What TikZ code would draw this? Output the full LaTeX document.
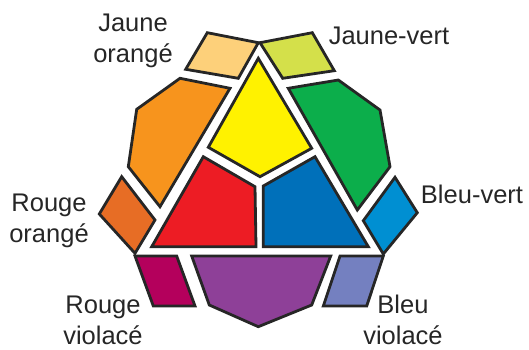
\documentclass[tikz,border=0pt]{standalone}
\usepackage{fontspec}
\setmainfont{Liberation Sans}

\definecolor{jauneorange}{RGB}{253,208,122}
\definecolor{jaunevert}{RGB}{212,224,74}
\definecolor{jaune}{RGB}{255,242,0}
\definecolor{orange}{RGB}{247,148,29}
\definecolor{vert}{RGB}{12,174,75}
\definecolor{rouge}{RGB}{237,28,36}
\definecolor{bleu}{RGB}{0,112,186}
\definecolor{violet}{RGB}{142,64,152}
\definecolor{rougeviolace}{RGB}{180,0,92}
\definecolor{bleuviolace}{RGB}{116,128,192}
\definecolor{rougeorange}{RGB}{231,109,37}
\definecolor{bleuvert}{RGB}{0,143,210}

\begin{document}
\begin{tikzpicture}[
    x=1pt, y=-1pt,
    patch/.style={
        draw=black!85,
        line width=2.8pt,
        line join=miter
    },
    every node/.style={
        font=\fontsize{25.5}{31}\selectfont,
        text=black!85,
        align=center,
        inner sep=0pt
    }
]
\useasboundingbox (0,0) rectangle (529,349);

% triangle central
\draw[patch, fill=jaune] (258.3,58.3) -- (311.7,148.3) -- (260,176.7) -- (208.3,147.3) -- cycle;
\draw[patch, fill=rouge] (203.3,156.7) -- (255,186.7) -- (256,246.7) -- (151.7,246.7) -- cycle;
\draw[patch, fill=bleu] (263.3,186) -- (315,156.7) -- (368.3,246.7) -- (263.3,246.7) -- cycle;

% couleurs secondaires
\draw[patch, fill=orange] (180,78.3) -- (230,88.3) -- (160,206.7) -- (128.3,166.7) -- (136.7,109.3) -- cycle;
\draw[patch, fill=vert] (288.3,88.3) -- (338.3,80) -- (380,110) -- (390,166.7) -- (357.3,210) -- cycle;
\draw[patch, fill=violet] (191.7,256) -- (330.7,256) -- (311.7,305) -- (258.3,326.7) -- (209.3,305) -- cycle;

% couleurs tertiaires
\draw[patch, fill=jauneorange] (207.3,32.7) -- (258.3,42.7) -- (238.3,78.3) -- (185.7,69.3) -- cycle;
\draw[patch, fill=jaunevert] (260,42.7) -- (312.3,32.7) -- (334.3,70.7) -- (282.7,78.3) -- cycle;
\draw[patch, fill=rougeorange] (121.7,176.7) -- (155,220) -- (135,253.3) -- (99.3,214) -- cycle;
\draw[patch, fill=bleuvert] (395,177.3) -- (417.3,212.7) -- (383.3,254) -- (363.3,220.7) -- cycle;
\draw[patch, fill=rougeviolace] (135,256) -- (176.7,256) -- (195,306) -- (153.3,306) -- cycle;
\draw[patch, fill=bleuviolace] (340,256) -- (383.3,256) -- (366.7,306) -- (323.3,306) -- cycle;

% noms
\node (jo) at (133,41) {Jaune\\orangé};
\node (jv) at (389,36) {Jaune-vert};
\node (ro) at (49,221) {Rouge\\orangé};
\node (bv) at (472,194) {Bleu-vert};
\node (rv) at (103,320) {Rouge\\violacé};
\node (bvi) at (403,320) {Bleu\\violacé};

\end{tikzpicture}
\end{document}
